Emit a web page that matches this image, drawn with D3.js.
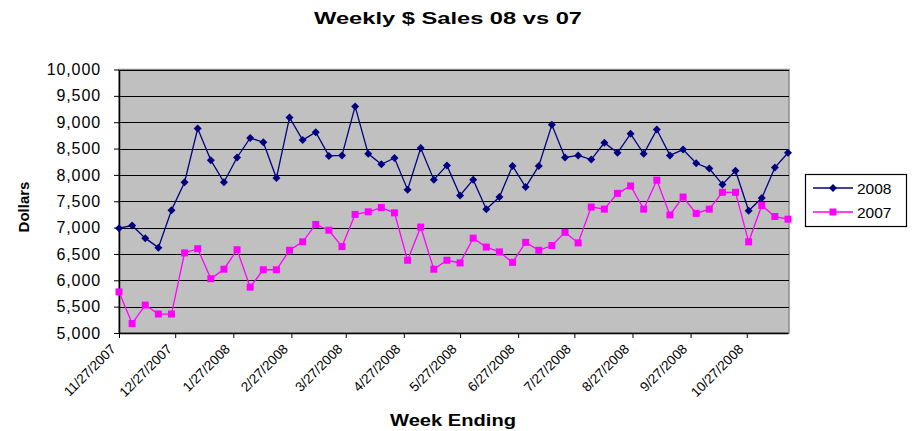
<!DOCTYPE html>
<head>
  <meta charset="utf-8">
  <title>Weekly $ Sales 08 vs 07</title>
  <style>
    body { margin: 0; background: #fff; }
    text { font-family: "Liberation Sans", Arial, sans-serif; }
  </style>
</head>
<body>
  <script src="https://cdn.jsdelivr.net/npm/d3@7"></script>
  <script>
    // data
    var firstWeek = "11/27/2007";   // weekly points from here
    var seriesNames = ["2008", "2007"];
    var sales2008 = [6990, 7040, 6800, 6620, 7330, 7860, 8880, 8280, 7860, 8330,
                     8700, 8620, 7940, 9090, 8660, 8810, 8360, 8370, 9300, 8400,
                     8200, 8320, 7720, 8510, 7910, 8180, 7610, 7910, 7350, 7580,
                     8170, 7770, 8170, 8950, 8330, 8370, 8290, 8610, 8420, 8780,
                     8400, 8860, 8370, 8480, 8220, 8120, 7820, 8080, 7320, 7560,
                     8140, 8420];
    var sales2007 = [5780, 5180, 5530, 5360, 5360, 6520, 6600, 6030, 6210, 6580,
                     5870, 6200, 6200, 6570, 6730, 7060, 6950, 6640, 7250, 7300,
                     7380, 7280, 6380, 7010, 6210, 6380, 6330, 6800, 6630, 6540,
                     6340, 6720, 6570, 6660, 6910, 6710, 7390, 7350, 7650, 7790,
                     7350, 7900, 7240, 7580, 7270, 7350, 7670, 7670, 6730, 7420,
                     7210, 7160];
    var xTickLabels = ["11/27/2007", "12/27/2007", "1/27/2008", "2/27/2008", "3/27/2008", "4/27/2008",
                       "5/27/2008", "6/27/2008", "7/27/2008", "8/27/2008", "9/27/2008", "10/27/2008"];
    var yTicks = [5000, 5500, 6000, 6500, 7000, 7500, 8000, 8500, 9000, 9500, 10000];

    var w = 916, h = 431;
    var plotLeft = 119, plotRight = 789, plotTop = 69.5, plotBottom = 333;

    var parseDate = d3.timeParse("%m/%d/%Y");
    var start = parseDate(firstWeek);
    var weeks = sales2008.map(function(d, i) { return d3.timeDay.offset(start, 7 * i); });

    var x = d3.scaleTime()
      .domain([weeks[0], weeks[weeks.length - 1]])
      .range([plotLeft, plotRight - 1]);
    var y = d3.scaleLinear().domain([5000, 10000]).range([plotBottom, plotTop]);

    var svg = d3.select("body").append("svg").attr("width", w).attr("height", h);

    // plot area
    svg.append("rect")
      .attr("x", plotLeft).attr("y", plotTop)
      .attr("width", plotRight - plotLeft).attr("height", plotBottom - plotTop)
      .attr("fill", "#c0c0c0")
      .attr("stroke", "#8c8c8c").attr("stroke-width", 1.5);

    // gridlines
    svg.append("g").selectAll("line")
      .data(yTicks.slice(1))
      .enter().append("line")
      .attr("x1", plotLeft).attr("x2", plotRight)
      .attr("y1", function(d) { return Math.round(y(d)) + 0.5; })
      .attr("y2", function(d) { return Math.round(y(d)) + 0.5; })
      .attr("stroke", "#000").attr("stroke-width", 1.2);

    // y axis
    var yAxis = d3.axisLeft(y).tickValues(yTicks).tickSize(5).tickSizeOuter(0)
      .tickFormat(d3.format(","));
    var gy = svg.append("g").attr("transform", "translate(" + plotLeft + ",0)").call(yAxis);
    gy.select(".domain").attr("stroke", "#000").attr("stroke-width", 1.5);
    gy.selectAll(".tick line").attr("stroke", "#000");
    gy.selectAll(".tick text")
      .attr("x", -18)
      .style("font-size", "16px").style("letter-spacing", "0.9px")
      .style("font-family", "Liberation Sans, Arial, sans-serif")
      .attr("fill", "#000");

    // x axis
    var tickDates = xTickLabels.map(parseDate);
    var xAxis = d3.axisBottom(x).tickValues(tickDates).tickSize(5).tickSizeOuter(0)
      .tickFormat(function(d, i) { return xTickLabels[i]; });
    var gx = svg.append("g").attr("transform", "translate(0," + plotBottom + ")").call(xAxis);
    gx.select(".domain").attr("stroke", "#000").attr("stroke-width", 1.5);
    gx.selectAll(".tick line").attr("stroke", "#000");
    gx.selectAll(".tick text")
      .attr("y", 0).attr("dy", 0)
      .attr("transform", "translate(-3,17) rotate(-45)")
      .style("text-anchor", "end")
      .style("font-size", "13.5px").style("font-family", "Liberation Sans, Arial, sans-serif")
      .attr("fill", "#000");

    // lines and markers
    var line = d3.line()
      .x(function(d, i) { return x(weeks[i]); })
      .y(function(d) { return y(d); });

    svg.append("path").datum(sales2007)
      .attr("d", line).attr("fill", "none")
      .attr("stroke", "#ff00ff").attr("stroke-width", 1.3);
    svg.append("path").datum(sales2008)
      .attr("d", line).attr("fill", "none")
      .attr("stroke", "#000080").attr("stroke-width", 1.3);

    svg.append("g").selectAll("rect")
      .data(sales2007)
      .enter().append("rect")
      .attr("x", function(d, i) { return x(weeks[i]) - 3.5; })
      .attr("y", function(d) { return y(d) - 3.5; })
      .attr("width", 7).attr("height", 7)
      .attr("fill", "#ff00ff");

    var diamond = d3.symbol().type(d3.symbolSquare).size(32);
    svg.append("g").selectAll("path")
      .data(sales2008)
      .enter().append("path")
      .attr("d", diamond)
      .attr("transform", function(d, i) { return "translate(" + x(weeks[i]) + "," + y(d) + ") rotate(45)"; })
      .attr("fill", "#000080");

    // title
    svg.append("text")
      .attr("x", 448).attr("y", 24)
      .attr("text-anchor", "middle")
      .style("font-size", "17px").style("font-weight", "bold")
      .attr("textLength", 268).attr("lengthAdjust", "spacingAndGlyphs")
      .text("Weekly $ Sales 08 vs 07");

    // axis titles
    svg.append("text")
      .attr("transform", "translate(29,207) rotate(-90)")
      .attr("text-anchor", "middle")
      .style("font-size", "15px").style("font-weight", "bold")
      .text("Dollars");

    svg.append("text")
      .attr("x", 453).attr("y", 426)
      .attr("text-anchor", "middle")
      .style("font-size", "16px").style("font-weight", "bold")
      .attr("textLength", 126).attr("lengthAdjust", "spacingAndGlyphs")
      .text("Week Ending");

    // legend
    var legend = svg.append("g");
    legend.append("rect")
      .attr("x", 805.5).attr("y", 174.5).attr("width", 101).attr("height", 52)
      .attr("fill", "#fff").attr("stroke", "#000").attr("stroke-width", 1.2);

    var colors = ["#000080", "#ff00ff"];
    seriesNames.forEach(function(name, i) {
      var ly = 188 + i * 24;
      legend.append("line")
        .attr("x1", 813).attr("x2", 853).attr("y1", ly).attr("y2", ly)
        .attr("stroke", colors[i]).attr("stroke-width", 1.3);
      if (i === 0) {
        legend.append("path").attr("d", diamond)
          .attr("transform", "translate(833," + ly + ") rotate(45)")
          .attr("fill", colors[i]);
      } else {
        legend.append("rect").attr("x", 829.5).attr("y", ly - 3.5)
          .attr("width", 7).attr("height", 7).attr("fill", colors[i]);
      }
      legend.append("text")
        .attr("x", 857).attr("y", ly + 5.5)
        .style("font-size", "15.5px")
        .text(name);
    });
  </script>
</body>
